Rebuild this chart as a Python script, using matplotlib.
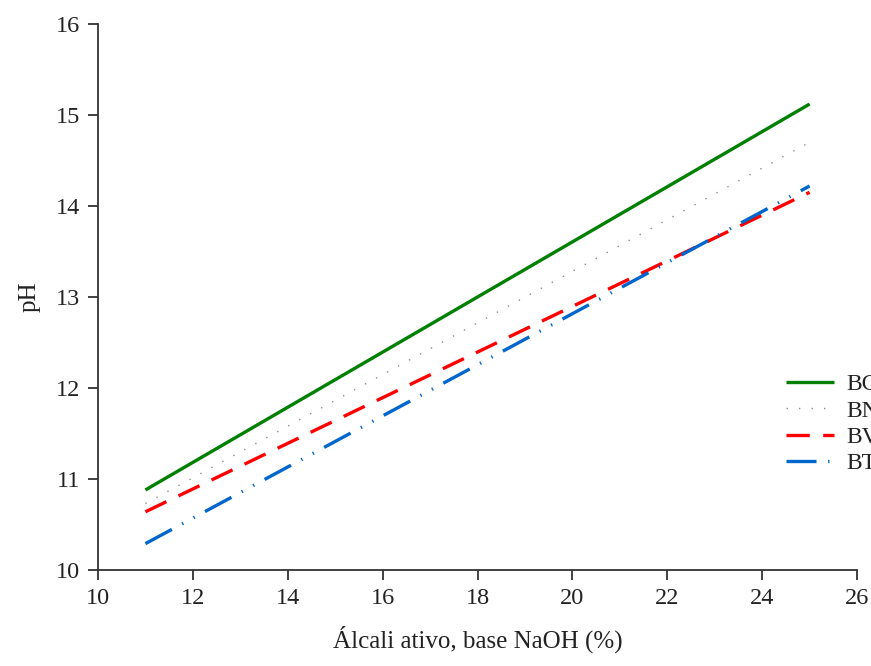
import matplotlib
matplotlib.use("Agg")
import matplotlib.pyplot as plt

plt.rcParams['font.family'] = ['Liberation Serif', 'DejaVu Serif']

# Data (straight lines read at the endpoints)
x_vals = [11, 25]
series_names = ["BC", "BN", "BV", "BT"]
bc = [10.88, 15.12]
bn = [10.73, 14.70]
bv = [10.64, 14.15]
bt = [10.29, 14.22]

x_ticks = [10, 12, 14, 16, 18, 20, 22, 24, 26]
y_ticks = [10, 11, 12, 13, 14, 15, 16]

fig = plt.figure(figsize=(8.71, 6.66), dpi=100)
ax = fig.add_axes([0.1125, 0.1441, 0.8715, 0.8199])

l1, = ax.plot(x_vals, bc, color="#008000", lw=2.4, solid_capstyle="butt")
l2, = ax.plot(x_vals, bn, color="#8c8c8c", lw=1.0, linestyle=(0, (1, 8)))
l3, = ax.plot(x_vals, bv, color="#ff0000", lw=2.4, linestyle=(0, (7, 4)))
l4, = ax.plot(x_vals, bt, color="#0066cc", lw=2.4, linestyle=(0, (9, 3.5, 0.4, 3.5, 0.4, 3.5)))

ax.set_xlim(10, 26)
ax.set_ylim(10, 16)
ax.set_xticks(x_ticks)
ax.set_yticks(y_ticks)
for s in ["top", "right"]:
    ax.spines[s].set_visible(False)
for s in ["left", "bottom"]:
    ax.spines[s].set_color("#333333")
    ax.spines[s].set_linewidth(1.3)
ax.tick_params(direction="out", length=7, width=1.3, color="#333333",
               labelsize=17.5, labelcolor="#222222", pad=6)

ax.set_xlabel("Álcali ativo, base NaOH (%)", fontsize=18, color="#222222", labelpad=12)
ax.set_ylabel("pH", fontsize=18, color="#222222", labelpad=11)

leg = fig.legend([l1, l2, l3, l4], series_names, loc="upper left",
                 bbox_to_anchor=(0.8915, 0.453), frameon=False, fontsize=17,
                 handlelength=2.03, handletextpad=0.55, labelspacing=0.2,
                 borderaxespad=0)
for t in leg.get_texts():
    t.set_color("#222222")

fig.savefig("out.png", dpi=100)
